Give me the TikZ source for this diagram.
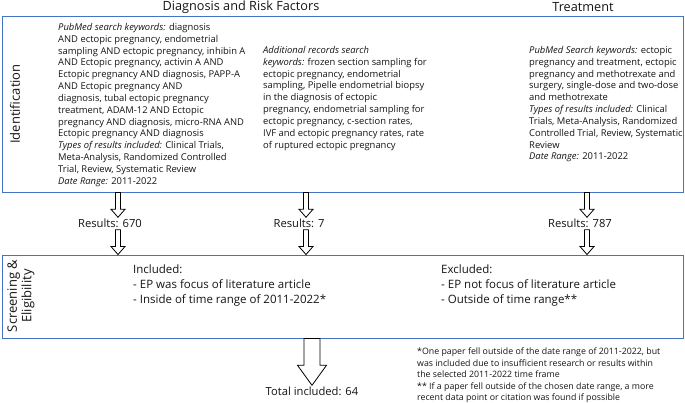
\documentclass[tikz,border=0pt]{standalone}
\usepackage{fontspec}
\setmainfont{Open Sans}
\usepackage{xcolor}
\usetikzlibrary{calc}
\definecolor{boxblue}{RGB}{68, 114, 196}
\definecolor{textblack}{RGB}{20, 20, 20}

\begin{document}
\begin{tikzpicture}[
        x=1pt, y=-1pt,
        panel/.style={rectangle, draw=boxblue, line width=1pt, inner sep=0pt},
        heading/.style={font=\fontsize{12.7}{15}\selectfont, text=textblack, inner sep=0pt},
        sidelabel/.style={font=\fontsize{13}{14.5}\selectfont, rotate=90, align=center, text=textblack, inner sep=0pt},
        coltext/.style={font=\fontsize{9.4}{11.85}\selectfont, align=left, anchor=north west, text=textblack, inner sep=0pt},
        criteria/.style={font=\fontsize{11.5}{15}\selectfont, align=left, anchor=north west, text=textblack, inner sep=0pt},
        result/.style={font=\fontsize{11.2}{13}\selectfont, text=textblack, inner sep=0pt, minimum height=12pt},
        note/.style={font=\fontsize{8.8}{11.6}\selectfont, align=left, anchor=north west, text=textblack, inner sep=0pt},
        blockarrow/.style args={#1/#2/#3}{draw=black, fill=white, line width=0.8pt, line join=miter,
            to path={let \p1=(\tikztostart), \p2=(\tikztotarget) in
                (\x1-#1,\y1) -- (\x1-#1,\y2+#3) -- (\x1-#2,\y2+#3) -- (\x1,\y2)
                -- (\x1+#2,\y2+#3) -- (\x1+#1,\y2+#3) -- (\x1+#1,\y1) -- cycle}}
    ]
    \useasboundingbox (0,0) rectangle (685,402);

    % Column headings
    \node[heading] (diaghead) at (241, 7) {Diagnosis and Risk Factors};
    \node[heading] (treathead) at (583, 7) {Treatment};

    % Identification panel
    \node[panel, minimum width=681pt, minimum height=176pt] (ident) at (342.5, 104) {};
    \node[sidelabel] (identlabel) at (15, 104) {Identification};

    \node[coltext] (diagtext) at (58, 23) {\textit{PubMed search keywords:} diagnosis\\
        AND ectopic pregnancy, endometrial\\
        sampling AND ectopic pregnancy, inhibin A\\
        AND Ectopic pregnancy, activin A AND\\
        Ectopic pregnancy AND diagnosis, PAPP-A\\
        AND Ectopic pregnancy AND\\
        diagnosis, tubal ectopic pregnancy\\
        treatment, ADAM-12 AND Ectopic\\
        pregnancy AND diagnosis, micro-RNA AND\\
        Ectopic pregnancy AND diagnosis\\
        \textit{Types of results included:} Clinical Trials,\\
        Meta-Analysis, Randomized Controlled\\
        Trial, Review, Systematic Review\\
        \textit{Date Range:} 2011-2022};

    \node[coltext] (addtext) at (263, 46) {\textit{Additional records search}\\
        \textit{keywords:} frozen section sampling for\\
        ectopic pregnancy, endometrial\\
        sampling, Pipelle endometrial biopsy\\
        in the diagnosis of ectopic\\
        pregnancy, endometrial sampling for\\
        ectopic pregnancy, c-section rates,\\
        IVF and ectopic pregnancy rates, rate\\
        of ruptured ectopic pregnancy};

    \node[coltext] (treattext) at (529, 46) {\textit{PubMed Search keywords:} ectopic\\
        pregnancy and treatment, ectopic\\
        pregnancy and methotrexate and\\
        surgery, single-dose and two-dose\\
        and methotrexate\\
        \textit{Types of results included:} Clinical\\
        Trials, Meta-Analysis, Randomized\\
        Controlled Trial, Review, Systematic\\
        Review\\
        \textit{Date Range:} 2011-2022};

    % Result counts
    \coordinate (arrowA) at (118, 0);
    \coordinate (arrowB) at (306, 0);
    \coordinate (arrowC) at (587, 0);
    \node[result] (resA) at (110, 223.5) {Results: 670};
    \node[result] (resB) at (299, 223.5) {Results: 7};
    \node[result] (resC) at (580, 223.5) {Results: 787};

    % Screening panel
    \node[panel, minimum width=681pt, minimum height=83pt] (screen) at (342.5, 296.5) {};
    \node[sidelabel] (screenlabel) at (21, 296) {Screening \&\\ Eligibility};
    \node[criteria] (included) at (133, 265) {Included:\\
        - EP was focus of literature article\\
        - Inside of time range of 2011-2022*};
    \node[criteria] (excluded) at (441, 265) {Excluded:\\
        - EP not focus of literature article\\
        - Outside of time range**};

    % Total and notes
    \node[result] (total) at (312, 391.5) {Total included: 64};
    \node[note] (footnote) at (417, 347.5) {*One paper fell outside of the date range of 2011-2022, but\\
        was included due to insufficient research or results within\\
        the selected 2011-2022 time frame\\
        ** If a paper fell outside of the chosen date range, a more\\
        recent data point or citation was found if possible};

    % Arrows
    \draw[blockarrow=2.5pt/7pt/8pt] (ident.south -| arrowA) to (resA.north -| arrowA);
    \draw[blockarrow=2.5pt/7pt/8pt] (resA.south -| arrowA) to (screen.north -| arrowA);
    \draw[blockarrow=2.5pt/7pt/8pt] (ident.south -| arrowB) to (resB.north -| arrowB);
    \draw[blockarrow=2.5pt/7pt/8pt] (resB.south -| arrowB) to (screen.north -| arrowB);
    \draw[blockarrow=2.5pt/7pt/8pt] (ident.south -| arrowC) to (resC.north -| arrowC);
    \draw[blockarrow=2.5pt/7pt/8pt] (resC.south -| arrowC) to (screen.north -| arrowC);
    \draw[blockarrow=8pt/14.5pt/20pt] (screen.south -| total) to (total.north);

\end{tikzpicture}
\end{document}
